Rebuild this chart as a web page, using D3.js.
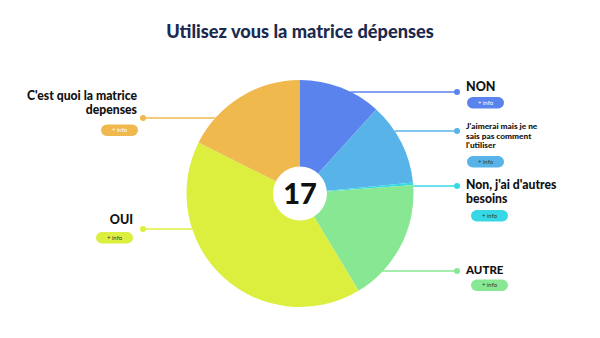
<!DOCTYPE html>
<html><head><meta charset="utf-8">
<script src="https://cdn.jsdelivr.net/npm/d3@7"></script>
<style>html,body{margin:0;padding:0;background:#fff;}svg{display:block;font-family:Lato,"Noto Sans",sans-serif;}</style>
</head><body>
<svg id="chart" width="600" height="338"></svg>
<script>
// ---- data ----
const title = "Utilisez vous la matrice dépenses";
const categories = ["NON", "J'aimerai mais je ne sais pas comment l'utiliser", "Non, j'ai d'autres besoins", "AUTRE", "OUI", "C'est quoi la matrice depenses"];
const values = [2, 2, 0.06, 3, 7, 3];
const colors = ["#5b83ee", "#57b3e8", "#36d8e6", "#87e792", "#dcef3f", "#efb94e"];
const totalLabel = "17";
const buttonLabel = "+ info";

// ---- layout (annotation placement) ----
const W = 600, H = 338, cx = 300, cy = 193.5, R = 113.5;
const labelLayout = [
  {side: 1, dotY: 92,  lines: ["NON"], fs: 12.5, base: 91, lh: 13, pillY: 97, pillX: 467, light: true},
  {side: 1, dotY: 131, lines: ["J'aimerai mais je ne", "sais pas comment", "l'utiliser"], fs: 8.3, base: 129, lh: 9.5, pillY: 156, pillX: 467, light: false},
  {side: 1, dotY: 186, lines: ["Non, j'ai d'autres", "besoins"], fs: 12.2, base: 188.5, lh: 14.2, pillY: 210, pillX: 471, light: false},
  {side: 1, dotY: 271, lines: ["AUTRE"], fs: 11.5, base: 274, lh: 13, pillY: 279.5, pillX: 471, light: false},
  {side: 0, dotY: 229, lines: ["OUI"], fs: 12.5, base: 224, lh: 13, pillY: 232, pillX: 133, light: false, textX: 133},
  {side: 0, dotY: 118, lines: ["C'est quoi la matrice", "depenses"], fs: 12.2, base: 99.5, lh: 14.2, pillY: 124.5, pillX: 138, light: true, textX: 137}
];

const svg = d3.select("#chart");

svg.append("text").attr("x", W/2).attr("y", 38).attr("text-anchor", "middle")
  .attr("font-size", 18.2).attr("font-weight", 900).attr("fill", "#1b2a4e").text(title);

const pie = d3.pie().sort(null).value(d => d)(values);
const arc = d3.arc().innerRadius(0).outerRadius(R);
const g = svg.append("g").attr("transform", `translate(${cx},${cy})`);
g.selectAll("path").data(pie).join("path").attr("d", arc).attr("fill", (d,i) => colors[i]);

// leader lines & labels
categories.forEach((c, i) => {
  const L = labelLayout[i];
  const dy = L.dotY - cy;
  const ex = Math.sqrt(Math.max(0, R*R - dy*dy));
  const x0 = L.side ? cx + ex : cx - ex;
  const dotX = L.side ? 457 : 143;
  svg.append("line").attr("x1", x0).attr("x2", dotX).attr("y1", L.dotY).attr("y2", L.dotY)
    .attr("stroke", colors[i]).attr("stroke-width", 1.6);
  svg.append("circle").attr("cx", dotX).attr("cy", L.dotY).attr("r", 3).attr("fill", colors[i]);
  L.lines.forEach((ln, k) => {
    svg.append("text").attr("font-size", L.fs).attr("font-weight", 900).attr("fill", "#111")
      .attr("text-anchor", L.side ? "start" : "end")
      .attr("x", L.side ? 466 : L.textX).attr("y", L.base + k*L.lh).text(ln);
  });
  const pw = 37, ph = 11.5;
  const px = L.side ? L.pillX : L.pillX - pw;
  svg.append("rect").attr("x", px).attr("y", L.pillY).attr("width", pw).attr("height", ph)
    .attr("rx", ph/2).attr("fill", colors[i]);
  svg.append("text").attr("x", px + pw/2).attr("y", L.pillY + ph/2 + 2.1).attr("text-anchor", "middle")
    .attr("font-size", 6).attr("fill", L.light ? "#fff" : "#333").text(buttonLabel);
});

// center total
g.append("circle").attr("r", 27).attr("fill", "#fff");
g.append("text").attr("y", 10.5).attr("text-anchor", "middle").attr("font-size", 29).attr("font-weight", 900)
  .attr("fill", "#111").text(totalLabel);
</script>
</body></html>
